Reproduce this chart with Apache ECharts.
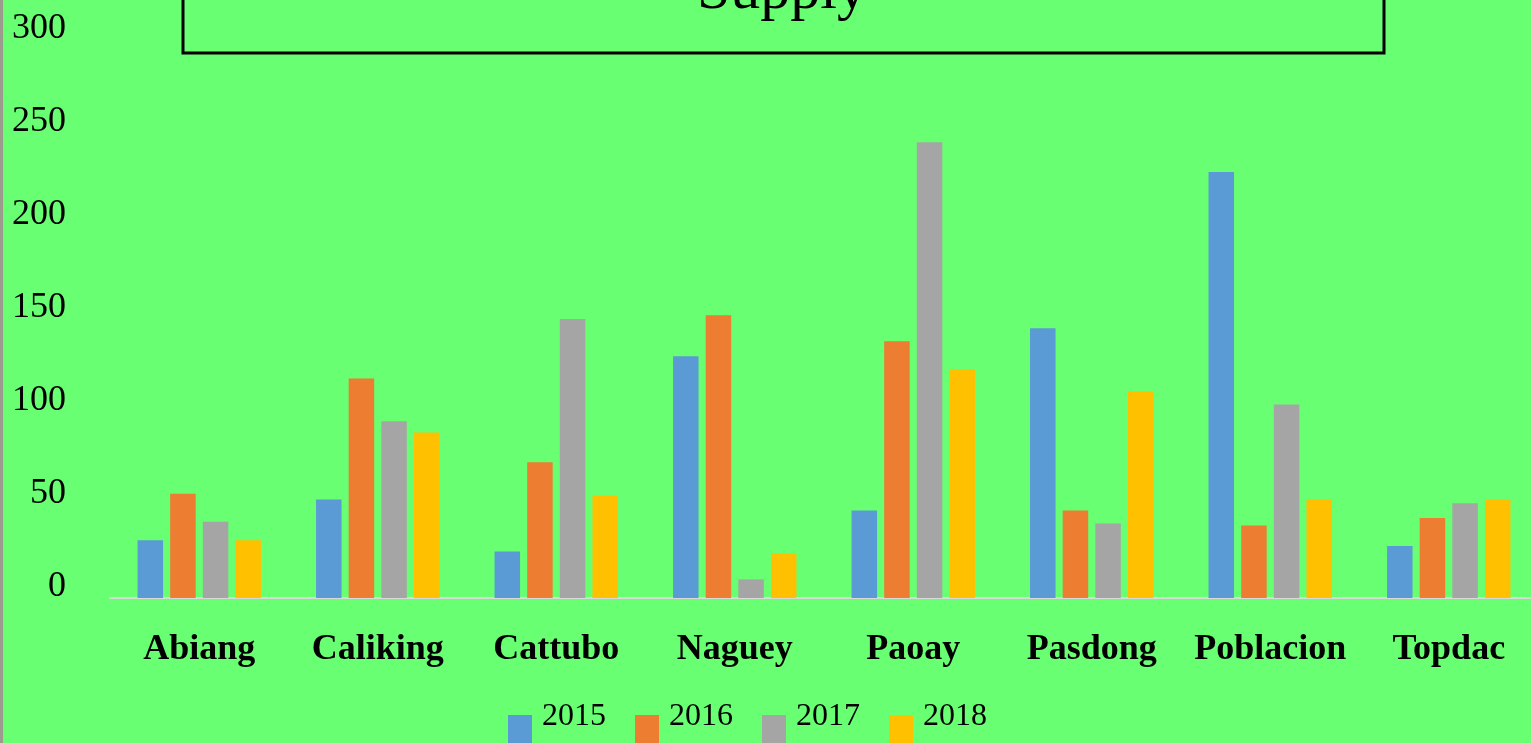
<!DOCTYPE html>
<html>
<head>
<meta charset="utf-8">
<script src="https://cdn.jsdelivr.net/npm/echarts@6/dist/echarts.min.js"></script>
<style>
html,body{margin:0;padding:0;background:#68FF72;overflow:hidden;}
#chart{width:1545px;height:743px;}
</style>
</head>
<body>
<div id="chart"></div>
<script>
const categories = ['Abiang', 'Caliking', 'Cattubo', 'Naguey', 'Paoay', 'Pasdong', 'Poblacion', 'Topdac'];
const seriesNames = ['2015', '2016', '2017', '2018'];
const values2015 = [31, 53, 25, 130, 47, 145, 229, 28];
const values2016 = [56, 118, 73, 152, 138, 47, 39, 43];
const values2017 = [41, 95, 150, 10, 245, 40, 104, 51];
const values2018 = [31, 89, 55, 24, 123, 111, 53, 53];
const colors = ['#5B9BD5', '#ED7D31', '#A5A5A5', '#FFC000'];
const titleText = 'Supply';

const allValues = [values2015, values2016, values2017, values2018];
const serif = '"Liberation Serif", "DejaVu Serif", serif';

const chart = echarts.init(document.getElementById('chart'), null, {renderer: 'canvas'});
chart.setOption({
  backgroundColor: '#68FF72',
  animation: false,
  color: colors,
  grid: {left: 110, width: 1428, top: 40, height: 558, containLabel: false},
  graphic: [
    {type: 'rect', left: 0, top: 0, shape: {x: 0, y: 0, width: 3, height: 743}, style: {fill: '#9c9c8e'}},
    {type: 'rect', shape: {x: 183, y: -20, width: 1201, height: 73}, style: {fill: 'none', stroke: '#000', lineWidth: 3}, z: 10},
    {type: 'text', x: 782, y: -8, style: {text: titleText, font: '60px ' + serif, fill: '#000', textAlign: 'center', textVerticalAlign: 'middle'}, z: 11}
  ],
  legend: {
    data: seriesNames,
    left: 508, top: 691, padding: 0,
    itemWidth: 24, itemHeight: 52, itemGap: 29,
    icon: 'path://M0,0 M0,24 L24,24 L24,52 L0,52 Z',
    textStyle: {fontFamily: serif, fontSize: 32, color: '#000', padding: [0, 0, 0, 5]}
  },
  xAxis: {
    type: 'category',
    data: categories,
    axisLine: {show: true, lineStyle: {color: '#d9d9d9', width: 2}},
    axisTick: {show: false},
    axisLabel: {fontFamily: serif, fontSize: 36, fontWeight: 'bold', color: '#000', margin: 34, interval: 0}
  },
  yAxis: {
    type: 'value', min: 0, max: 300, interval: 50,
    splitLine: {show: false},
    axisLine: {show: false},
    axisTick: {show: false},
    axisLabel: {fontFamily: serif, fontSize: 36, color: '#000', margin: 44, verticalAlign: 'bottom', lineHeight: 23}
  },
  series: seriesNames.map((name, i) => ({
    name: name,
    type: 'bar',
    data: allValues[i],
    barWidth: 25.5,
    barGap: '28%',
    itemStyle: {color: colors[i]}
  }))
});
</script>
</body>
</html>
